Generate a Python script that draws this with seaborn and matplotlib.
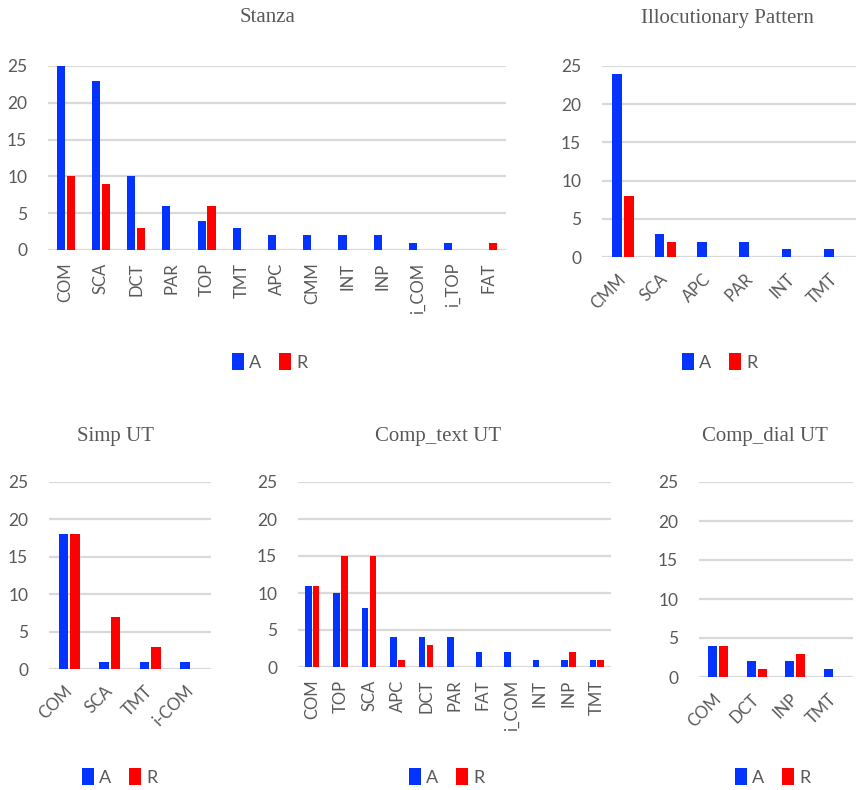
import matplotlib
matplotlib.use("Agg")
import matplotlib.pyplot as plt
import numpy as np
import pandas as pd
import seaborn as sns

# data
stanza_cats = ['COM', 'SCA', 'DCT', 'PAR', 'TOP', 'TMT', 'APC', 'CMM', 'INT', 'INP', 'i_COM', 'i_TOP', 'FAT']
stanza_A = [25, 23, 10, 6, 4, 3, 2, 2, 2, 2, 1, 1, 0]
stanza_R = [10, 9, 3, 0, 6, 0, 0, 0, 0, 0, 0, 0, 1]

illoc_cats = ['CMM', 'SCA', 'APC', 'PAR', 'INT', 'TMT']
illoc_A = [24, 3, 2, 2, 1, 1]
illoc_R = [8, 2, 0, 0, 0, 0]

simp_cats = ['COM', 'SCA', 'TMT', 'i-COM']
simp_A = [18, 1, 1, 1]
simp_R = [18, 7, 3, 0]

text_cats = ['COM', 'TOP', 'SCA', 'APC', 'DCT', 'PAR', 'FAT', 'i_COM', 'INT', 'INP', 'TMT']
text_A = [11, 10, 8, 4, 4, 4, 2, 2, 1, 1, 1]
text_R = [11, 15, 15, 1, 3, 0, 0, 0, 0, 2, 1]

dial_cats = ['COM', 'DCT', 'INP', 'TMT']
dial_A = [4, 2, 2, 1]
dial_R = [4, 1, 3, 0]

titles = ['Stanza', 'Illocutionary Pattern', 'Simp UT', 'Comp_text UT', 'Comp_dial UT']

sns.set_style("white")
plt.rcParams['font.family'] = ['Lato', 'DejaVu Sans']

W, H = 858, 790
fig = plt.figure(figsize=(W / 100, H / 100), dpi=100)

grey = '#595959'
grid = '#D9D9D9'
pal = {'A': '#0433FF', 'R': '#FF0000'}


def rect(x0, x1, y0, y1):
    return [x0 / W, 1 - y1 / H, (x1 - x0) / W, (y1 - y0) / H]


def make_df(cats, a, r):
    return pd.DataFrame({
        'cat': cats + cats,
        'count': a + r,
        'group': ['A'] * len(cats) + ['R'] * len(cats),
    })


# (cats, A, R, axes box, rotation, title pos, legend pos)
panels = [
    (stanza_cats, stanza_A, stanza_R, (48, 506, 66, 250), 90, (268, 18), (270, 362)),
    (illoc_cats, illoc_A, illoc_R, (602, 856, 66, 257), 45, (727, 18), (720, 362)),
    (simp_cats, simp_A, simp_R, (49, 211, 482, 669), 45, (115, 437), (120, 777)),
    (text_cats, text_A, text_R, (298, 611, 482, 667), 90, (438, 437), (447, 777)),
    (dial_cats, dial_A, dial_R, (699, 853, 482, 677), 45, (765, 437), (773, 777)),
]

for i, (cats, a, r, box, rot, tpos, lpos) in enumerate(panels):
    ax = fig.add_axes(rect(*box))
    df = make_df(cats, a, r)
    sns.barplot(data=df, x='cat', y='count', hue='group', palette=pal, saturation=1,
                width=0.56, gap=0.18, linewidth=0, ax=ax)
    ax.set_ylim(0, 25)
    ax.set_yticks([0, 5, 10, 15, 20, 25])
    ax.set_xlabel('')
    ax.set_ylabel('')
    for s in ax.spines.values():
        s.set_visible(False)
    ax.grid(axis='y', color=grid, linewidth=1.6)
    ax.set_axisbelow(True)
    ax.tick_params(axis='y', length=0, pad=15, labelsize=12.5, labelcolor=grey)
    ax.tick_params(axis='x', length=0, labelsize=12, labelcolor=grey)
    if rot == 90:
        ax.tick_params(axis='x', pad=9)
        for lab in ax.get_xticklabels():
            lab.set_rotation(90)
            lab.set_ha('center')
            lab.set_va('top')
    else:
        ax.tick_params(axis='x', pad=14)
        for lab in ax.get_xticklabels():
            lab.set_rotation(45)
            lab.set_ha('right')
            lab.set_va('center')
            lab.set_rotation_mode('anchor')
    fig.text(tpos[0] / W, 1 - tpos[1] / H, titles[i], ha='center', va='center',
             fontsize=15, color=grey, family='Liberation Serif')
    sns.move_legend(ax, 'center', bbox_to_anchor=(lpos[0] / W, 1 - lpos[1] / H),
                    bbox_transform=fig.transFigure, ncol=2, frameon=False, title=None,
                    handlelength=0.65, handleheight=1.1, handletextpad=0.3,
                    columnspacing=1.0, fontsize=13, labelcolor=grey)

fig.savefig('out.png', dpi=100)
